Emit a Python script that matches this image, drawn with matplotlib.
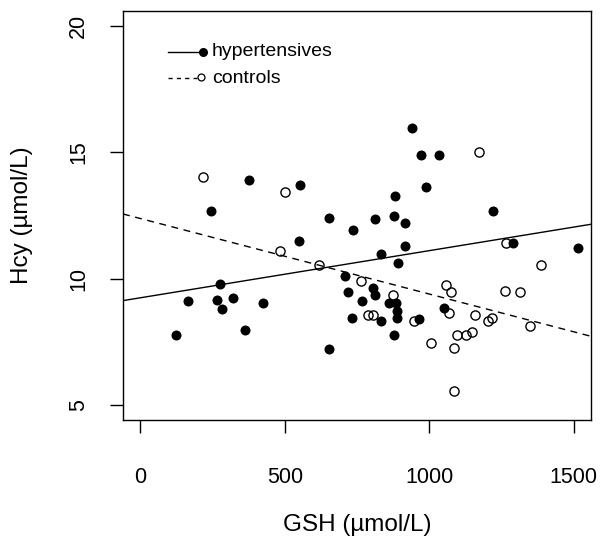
import matplotlib.pyplot as plt

plt.rcParams['font.family'] = ['Liberation Sans', 'DejaVu Sans']

# hypertensives (filled points)
hyp_gsh = [124, 164, 245, 266, 276, 282, 320, 361, 375, 424, 549, 553, 654, 652,
           710, 720, 737, 733, 766, 806, 812, 813, 832, 832, 861, 884, 890, 888,
           878, 877, 882, 893, 916, 916, 939, 965, 971, 989, 1033, 1051, 1220,
           1289, 1516]
hyp_hcy = [7.75, 9.13, 12.69, 9.14, 9.80, 8.81, 9.24, 7.96, 13.91, 9.04, 11.50,
           13.72, 12.42, 7.23, 10.12, 9.46, 11.91, 8.42, 9.13, 9.63, 9.37, 12.37,
           10.99, 8.31, 9.04, 9.04, 8.71, 8.45, 7.75, 12.49, 13.29, 10.62, 12.20,
           11.30, 15.98, 8.41, 14.90, 13.61, 14.90, 8.84, 12.69, 11.41, 11.21]

# controls (open points)
ctl_gsh = [218, 482, 500, 620, 764, 790, 804, 876, 947, 1007, 1059, 1068, 1077,
           1085, 1085, 1095, 1128, 1148, 1160, 1171, 1203, 1217, 1261, 1265, 1315,
           1351, 1387]
ctl_hcy = [14.04, 11.11, 13.43, 10.55, 9.92, 8.54, 8.54, 9.37, 8.34, 7.46, 9.74,
           8.64, 9.47, 7.26, 5.55, 7.76, 7.77, 7.88, 8.54, 15.01, 8.31, 8.42, 9.52,
           11.41, 9.46, 8.12, 10.55]

# fitted regression lines (intercept, slope)
hyp_fit = (9.24, 0.001866)
ctl_fit = (12.38, -0.00299)

x_ticks = [0, 500, 1000, 1500]
y_ticks = [5, 10, 15, 20]

fig = plt.figure(figsize=(6.06, 5.41), dpi=100)
ax = fig.add_axes([0.203, 0.2237, 0.772, 0.756])

ax.plot(hyp_gsh, hyp_hcy, 'o', color='black', ms=7.2, mew=0)
ax.plot(ctl_gsh, ctl_hcy, 'o', mfc='none', mec='black', ms=6.6, mew=1.0)

xmin, xmax = -60, 1560
ax.set_xlim(xmin, xmax)
ax.set_ylim(4.4, 20.6)

for (a, b), ls in [(hyp_fit, '-'), (ctl_fit, (0, (5, 4)))]:
    ax.plot([xmin, xmax], [a + b * xmin, a + b * xmax], color='black', lw=1.0, ls=ls)

ax.set_xticks(x_ticks)
ax.set_yticks(y_ticks)
ax.tick_params(direction='out', length=9.5, width=1.0, labelsize=15.5)
ax.tick_params(axis='x', pad=24)
ax.tick_params(axis='y', pad=15)
for lab in ax.get_yticklabels():
    lab.set_rotation(90)
    lab.set_va('center')
for s in ax.spines.values():
    s.set_linewidth(1.0)

ax.set_xlabel('GSH (\u00b5mol/L)', fontsize=17.5, va='center')
ax.xaxis.set_label_coords(0.5, -0.257)
ax.set_ylabel('Hcy (\u00b5mol/L)', fontsize=17.5, va='center')
ax.yaxis.set_label_coords(-0.216, 0.5)

# legend drawn by hand: line with point at its right end
t = ax.transAxes
ax.plot([0.096, 0.171], [0.900, 0.900], color='black', lw=1.0, transform=t)
ax.plot([0.171], [0.900], 'o', color='black', ms=6.5, mew=0, transform=t)
ax.text(0.19, 0.900, 'hypertensives', fontsize=14, va='center', transform=t)
ax.plot([0.096, 0.158], [0.836, 0.836], color='black', lw=1.0, ls=(0, (3, 3)), transform=t)
ax.plot([0.166], [0.838], 'o', mfc='none', mec='black', ms=5, mew=0.9, transform=t)
ax.text(0.19, 0.836, 'controls', fontsize=14, va='center', transform=t)

fig.savefig('out.png', dpi=100)
